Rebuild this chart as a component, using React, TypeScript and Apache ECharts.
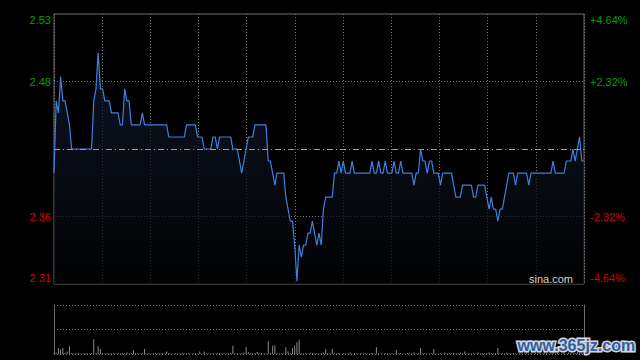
import React, { useEffect, useRef } from "react";
import * as echarts from "echarts";

// Previous close and the symmetric percentage range of the intraday chart
const preClose = 2.42;
const maxPct = 4.64;
const pctStep = 2.32;

// Minute prices, 241 minutes (09:30-11:30, 13:00-15:00)
const prices: number[] = [
  2.40, 2.46, 2.45, 2.48, 2.46, 2.46, 2.45, 2.44, 2.42, 2.42,
  2.42, 2.42, 2.42, 2.42, 2.42, 2.42, 2.42, 2.42, 2.46, 2.47,
  2.50, 2.47, 2.47, 2.46, 2.46, 2.46, 2.45, 2.45, 2.45, 2.45,
  2.44, 2.44, 2.47, 2.46, 2.46, 2.44, 2.44, 2.44, 2.44, 2.44,
  2.45, 2.44, 2.44, 2.44, 2.44, 2.44, 2.44, 2.44, 2.44, 2.44,
  2.44, 2.44, 2.43, 2.43, 2.43, 2.43, 2.43, 2.43, 2.43, 2.43,
  2.44, 2.44, 2.44, 2.44, 2.44, 2.43, 2.43, 2.43, 2.42, 2.42,
  2.42, 2.42, 2.43, 2.43, 2.42, 2.43, 2.43, 2.43, 2.43, 2.43,
  2.43, 2.42, 2.42, 2.42, 2.41, 2.40, 2.41, 2.42, 2.43, 2.43,
  2.43, 2.44, 2.44, 2.44, 2.44, 2.44, 2.44, 2.41, 2.41, 2.40,
  2.39, 2.40, 2.40, 2.40, 2.40, 2.38, 2.37, 2.36, 2.36, 2.34,
  2.31, 2.34, 2.33, 2.34, 2.34, 2.35, 2.35, 2.36, 2.35, 2.34,
  2.35, 2.34, 2.37, 2.38, 2.38, 2.38, 2.38, 2.40, 2.40, 2.41,
  2.40, 2.41, 2.40, 2.40, 2.40, 2.41, 2.40, 2.40, 2.40, 2.40,
  2.40, 2.40, 2.40, 2.40, 2.41, 2.40, 2.40, 2.41, 2.40, 2.40,
  2.41, 2.40, 2.40, 2.40, 2.41, 2.40, 2.40, 2.41, 2.40, 2.40,
  2.40, 2.40, 2.40, 2.39, 2.40, 2.40, 2.42, 2.41, 2.41, 2.40,
  2.41, 2.41, 2.40, 2.40, 2.40, 2.39, 2.40, 2.40, 2.40, 2.40,
  2.40, 2.39, 2.38, 2.38, 2.38, 2.39, 2.39, 2.39, 2.39, 2.39,
  2.38, 2.38, 2.39, 2.39, 2.39, 2.39, 2.38, 2.37, 2.38, 2.37,
  2.37, 2.36, 2.37, 2.37, 2.38, 2.39, 2.40, 2.40, 2.40, 2.39,
  2.40, 2.40, 2.40, 2.40, 2.40, 2.39, 2.40, 2.40, 2.40, 2.40,
  2.40, 2.40, 2.40, 2.40, 2.40, 2.40, 2.41, 2.40, 2.40, 2.40,
  2.40, 2.40, 2.41, 2.41, 2.41, 2.42, 2.41, 2.42, 2.43, 2.41,
  2.41,
];

// Minute volumes (relative units)
const volumes: number[] = [
  2, 3, 12, 9, 12, 2, 5, 16, 2, 1,
  1, 2, 1, 1, 2, 1, 1, 2, 30, 2,
  16, 10, 2, 1, 2, 1, 1, 2, 1, 2,
  1, 2, 1, 3, 1, 2, 7, 2, 1, 1,
  2, 10, 1, 2, 1, 1, 2, 1, 1, 2,
  1, 5, 2, 1, 1, 2, 1, 1, 2, 1,
  1, 2, 1, 1, 2, 1, 5, 1, 5, 2,
  1, 1, 2, 1, 1, 2, 1, 2, 1, 1,
  2, 17, 1, 2, 1, 2, 3, 14, 4, 2,
  1, 2, 4, 1, 2, 1, 1, 26, 2, 17,
  18, 2, 1, 2, 1, 14, 5, 2, 12, 17,
  24, 29, 2, 1, 2, 1, 3, 2, 1, 2,
  1, 2, 3, 10, 2, 1, 10, 2, 1, 2,
  1, 2, 1, 1, 3, 1, 2, 1, 1, 2,
  1, 2, 1, 1, 2, 1, 14, 2, 1, 1,
  2, 1, 1, 2, 1, 8, 1, 2, 1, 1,
  2, 1, 1, 3, 1, 2, 12, 1, 2, 1,
  1, 2, 10, 1, 1, 2, 1, 3, 1, 2,
  1, 2, 1, 2, 3, 1, 5, 1, 2, 1,
  2, 1, 3, 1, 2, 1, 2, 3, 2, 1,
  2, 12, 1, 2, 1, 3, 2, 1, 2, 1,
  1, 2, 1, 1, 3, 1, 2, 1, 2, 1,
  2, 1, 3, 1, 1, 2, 4, 1, 2, 1,
  1, 2, 1, 3, 2, 1, 2, 4, 3, 2,
  5,
];

const GREEN = "#00a000";
const RED = "#d40000";
const GRID_LINE = "#7a7a7a";
const BORDER = "#6e6e6e";
const FONT = "Liberation Sans, Arial, sans-serif";

export default function App() {
  const ref = useRef<HTMLDivElement>(null);

  useEffect(() => {
    if (!ref.current) return;
    const chart = echarts.init(ref.current, null, { renderer: "svg" });
    const lastIdx = prices.length - 1;
    const pMin = preClose * (1 - maxPct / 100);
    const pMax = preClose * (1 + maxPct / 100);

    const priceLabel = (v: number) => {
      const r = Math.round(v * 100) / 100;
      if (Math.abs(r) < 1e-6) return "";
      const s = (preClose * (1 + r / 100)).toFixed(2);
      if (r >= maxPct - 1e-6) return "{upTop|" + s + "}";
      if (r > 0) return "{up|" + s + "}";
      if (r <= -maxPct + 1e-6) return "{dnBot|" + s + "}";
      return "{dn|" + s + "}";
    };
    const pctLabel = (v: number) => {
      const r = Math.round(v * 100) / 100;
      if (Math.abs(r) < 1e-6) return "";
      const s = (r > 0 ? "+" : "") + r.toFixed(2) + "%";
      if (r >= maxPct - 1e-6) return "{upTop|" + s + "}";
      if (r > 0) return "{up|" + s + "}";
      if (r <= -maxPct + 1e-6) return "{dnBot|" + s + "}";
      return "{dn|" + s + "}";
    };
    const rich = {
      up: { color: GREEN, fontSize: 11, fontFamily: FONT },
      upTop: { color: GREEN, fontSize: 11, fontFamily: FONT, padding: [12, 0, 0, 0] },
      dn: { color: RED, fontSize: 11, fontFamily: FONT },
      dnBot: { color: RED, fontSize: 11, fontFamily: FONT, padding: [0, 0, 12, 0] },
    };

    chart.setOption({
      animation: false,
      backgroundColor: "#000000",
      grid: [
        {
          left: 54,
          right: 56,
          top: 14,
          height: 270,
          show: true,
          borderColor: BORDER,
          borderWidth: 1,
          backgroundColor: "transparent",
        },
        { left: 54, right: 56, top: 305, height: 49 },
      ],
      xAxis: [
        {
          type: "value",
          gridIndex: 0,
          min: 0,
          max: lastIdx,
          show: false,
        },
        {
          type: "value",
          gridIndex: 0,
          min: 0,
          max: 11,
          interval: 1,
          axisLine: { show: false },
          axisTick: { show: false },
          axisLabel: { show: false },
          splitLine: {
            show: true,
            lineStyle: { color: GRID_LINE, type: [1, 2], width: 1 },
          },
        },
        {
          type: "value",
          gridIndex: 1,
          min: 0,
          max: lastIdx,
          axisLine: { show: false },
          axisTick: { show: false },
          axisLabel: { show: false },
          splitLine: { show: false },
        },
      ],
      yAxis: [
        {
          type: "value",
          gridIndex: 0,
          min: pMin,
          max: pMax,
          show: false,
        },
        {
          type: "value",
          gridIndex: 0,
          position: "left",
          min: -maxPct,
          max: maxPct,
          interval: pctStep,
          axisLine: { show: false },
          axisTick: { show: false },
          axisLabel: {
            margin: 3,
            fontSize: 11,
            fontFamily: FONT,
            formatter: priceLabel,
            rich,
          },
          splitLine: {
            show: true,
            lineStyle: {
              color: ["transparent", GRID_LINE, "transparent", GRID_LINE, "transparent"],
              type: [1, 2],
              width: 1,
            },
          },
        },
        {
          type: "value",
          gridIndex: 0,
          position: "right",
          min: -maxPct,
          max: maxPct,
          interval: pctStep,
          axisLine: { show: false },
          axisTick: { show: false },
          axisLabel: {
            margin: 6,
            fontSize: 11,
            fontFamily: FONT,
            formatter: pctLabel,
            rich,
          },
          splitLine: { show: false },
        },
        {
          type: "value",
          gridIndex: 1,
          position: "left",
          min: 0,
          max: 100,
          interval: 50,
          axisLine: { show: true, lineStyle: { color: BORDER, width: 1 } },
          axisTick: { show: false },
          axisLabel: { show: false },
          splitLine: {
            show: true,
            lineStyle: { color: GRID_LINE, type: [1, 2], width: 1 },
          },
        },
        {
          type: "value",
          gridIndex: 1,
          position: "right",
          min: 0,
          max: 100,
          axisLine: { show: true, lineStyle: { color: BORDER, width: 1 } },
          axisTick: { show: false },
          axisLabel: { show: false },
          splitLine: { show: false },
        },
      ],
      series: [
        {
          type: "line",
          xAxisIndex: 0,
          yAxisIndex: 0,
          data: prices.map((p, i) => [i, p]),
          showSymbol: false,
          symbol: "none",
          lineStyle: { color: "#3f7fe0", width: 1.2 },
          areaStyle: {
            origin: "start",
            color: new echarts.graphic.LinearGradient(0, 0, 0, 1, [
              { offset: 0, color: "#121c30" },
              { offset: 1, color: "#020305" },
            ]),
          },
          markLine: {
            silent: true,
            symbol: ["none", "none"],
            label: { show: false },
            lineStyle: { color: "#9a9a9a", type: [6, 3, 1, 3], width: 1 },
            data: [{ yAxis: preClose }],
          },
          z: 3,
        },
        {
          type: "bar",
          xAxisIndex: 2,
          yAxisIndex: 3,
          data: volumes.map((v, i) => [i, v]),
          barWidth: 1,
          itemStyle: { color: "#8a8a8a" },
          z: 3,
        },
      ],
      graphic: [
        {
          type: "text",
          right: 67,
          top: 273,
          style: {
            text: "sina.com",
            fill: "#d0d0d0",
            font: "11px " + FONT,
          },
          z: 10,
        },
        {
          type: "text",
          left: 516,
          top: 336,
          style: {
            text: "www.365jz.com",
            fill: "#2d5ea6",
            stroke: "#d8d8d8",
            lineWidth: 3,
            font: "bold 16px " + FONT,
          },
          z: 10,
        },
      ],
    });

    return () => chart.dispose();
  }, []);

  return (
    <div
      ref={ref}
      style={{ position: "fixed", left: 0, top: 0, width: 640, height: 360, background: "#000" }}
    />
  );
}
